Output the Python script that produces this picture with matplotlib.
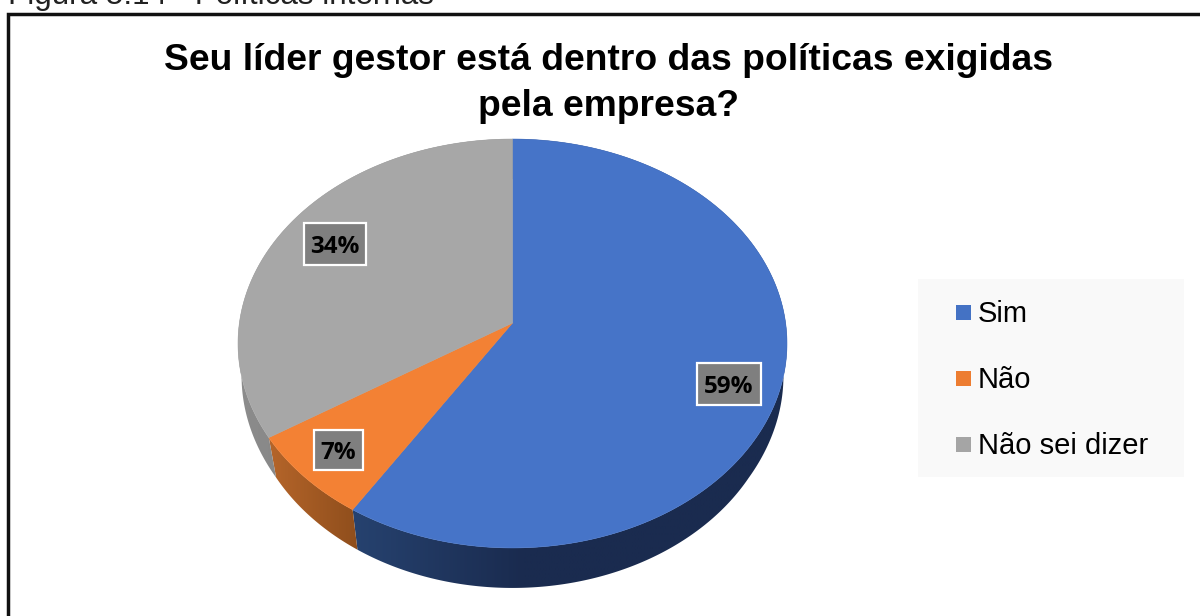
import numpy as np
import matplotlib
matplotlib.use("Agg")
import matplotlib.pyplot as plt
from matplotlib.patches import Polygon, Rectangle
from matplotlib.colors import to_rgb

categories = ["Sim", "Não", "Não sei dizer"]
percentages = [59, 7, 34]
top_colors = ["#4674C8", "#F38134", "#A7A7A7"]
legend_colors = ["#4472C4", "#ED7D31", "#A5A5A5"]
# Shaded side wall of each slice: colour at the left end, colour at the right end.
side_colors = [("#26426F", "#1A2B4F"), ("#B5652A", "#8F4E1C"), ("#8C8C8C", "#7B7B7B")]

title_lines = ["Seu líder gestor está dentro das políticas exigidas", "pela empresa?"]
caption = "Figura 5.14 - Políticas internas"

# Perspective pie geometry, in pixels.
CX, CY = 512.5, 323.0
RX, RY, TILT = 273.1, 202.4, 0.1002
DEPTH = 40.0

# Label boxes: left, top, right, bottom.
label_boxes = [(697, 363, 761, 405), (314, 430, 363, 470), (304, 223, 366, 265)]


def rim(turn):
    """Project a clockwise angle from 12 o'clock (in turns) onto the pie's tilted rim."""
    a = 2 * np.pi * np.asarray(turn)
    u, v = np.sin(a), -np.cos(a)
    w = 1 - TILT * v
    return RX * u / w, RY * v / w


def wall_scale(y):
    """Horizontal shrink of the lower rim, stronger towards the front of the pie."""
    return 0.99 - 0.02 * np.clip(y / 115, 0, 1)


fig = plt.figure(figsize=(12, 6.16), dpi=100, facecolor="white")
ax = fig.add_axes([0, 0, 1, 1])
ax.set_xlim(0, 1200)
ax.set_ylim(616, 0)
ax.axis("off")

# Chart frame runs off the right and bottom of the page.
ax.plot([7.8, 7.8, 1210], [630, 13.8, 13.8], color="#111111", lw=2.5, solid_joinstyle="miter")

ax.text(8, 4, caption, family="Liberation Sans", fontsize=22.6, color="#222222", ha="left", va="baseline")
for line, baseline in zip(title_lines, [70, 116]):
    ax.text(609, baseline, line, family="Liberation Sans", fontweight="bold", fontsize=26.85,
            color="black", ha="center", va="baseline")

fractions = np.array(percentages) / sum(percentages)
edges = np.concatenate([[0], np.cumsum(fractions)])

# Side wall: a horizontal gradient per slice, clipped to the slice's outer band.
for start, stop, (left, right) in zip(edges[:-1], edges[1:], side_colors):
    ts = np.linspace(start, stop, max(int((stop - start) * 720), 12))
    x, y = rim(ts)
    xt, yt = CX + x, CY + y
    xb, yb = CX + x * wall_scale(y), CY + y + DEPTH
    band = Polygon(np.column_stack([np.r_[xt, xb[::-1]], np.r_[yt, yb[::-1]]]), closed=True,
                   facecolor="none", edgecolor="none", transform=ax.transData)
    ax.add_patch(band)
    xmin, xmax = min(xt.min(), xb.min()), max(xt.max(), xb.max())
    ymin, ymax = min(yt.min(), yb.min()), max(yt.max(), yb.max())
    c0, c1 = np.array(to_rgb(left)), np.array(to_rgb(right))
    cols = np.linspace(xmin, xmax, 256)
    mix = np.clip((cols - xmin) / max(min(xmax - xmin, 170), 1), 0, 1)[None, :, None]
    gradient = c0[None, None, :] + (c1 - c0)[None, None, :] * mix
    image = ax.imshow(gradient, extent=(xmin, xmax, ymax, ymin), aspect="auto", interpolation="bilinear")
    image.set_clip_path(band)
ax.set_xlim(0, 1200)
ax.set_ylim(616, 0)

# Top surface of the slices.
for start, stop, color in zip(edges[:-1], edges[1:], top_colors):
    ts = np.linspace(start, stop, max(int((stop - start) * 720), 8))
    x, y = rim(ts)
    pts = np.column_stack([np.r_[CX, CX + x], np.r_[CY, CY + y]])
    ax.add_patch(Polygon(pts, closed=True, facecolor=color, edgecolor=color, lw=0.4))

# Value labels.
for value, (x0, y0, x1, y1) in zip(percentages, label_boxes):
    ax.add_patch(Rectangle((x0, y0), x1 - x0, y1 - y0, facecolor="#7F7F7F", edgecolor="white", lw=1.6))
    ax.text((x0 + x1) / 2, (y0 + y1) / 2 + 9, f"{value}%", family="Open Sans", fontweight="bold",
            fontsize=17.5, color="black", ha="center", va="baseline")

# Legend panel.
ax.add_patch(Rectangle((918, 279), 266, 198, facecolor="#F9F9F9", edgecolor="none"))
for name, color, yc in zip(categories, legend_colors, [311, 377, 443]):
    ax.add_patch(Rectangle((956, yc - 6.5), 15, 15, facecolor=color, edgecolor="none"))
    ax.text(978, yc, name, family="Liberation Sans", fontsize=21, color="black", ha="left", va="center_baseline")

fig.savefig("out.png", dpi=100)
